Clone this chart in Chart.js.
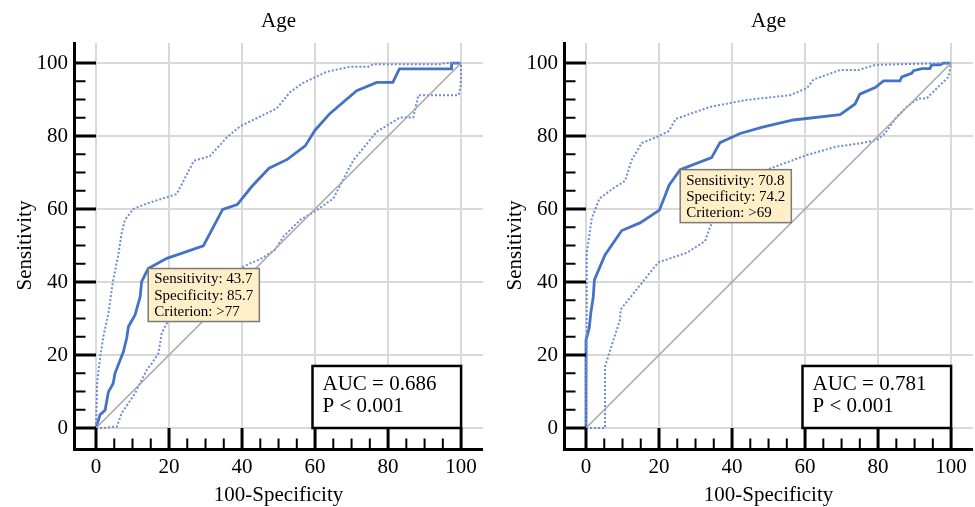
<!DOCTYPE html>
<html>
<head>
<meta charset="utf-8">
<script src="https://cdn.jsdelivr.net/npm/chart.js@4.4.1/dist/chart.umd.min.js"></script>
<style>
  html, body { margin: 0; padding: 0; background: #fff; }
  #wrap { position: relative; width: 975px; height: 507px; }
  #c1 { position: absolute; left: 0; top: 0; }
  #c2 { position: absolute; left: 490px; top: 0; }
</style>
</head>
<body>
<div id="wrap">
  <canvas id="c1" width="490" height="507"></canvas>
  <canvas id="c2" width="485" height="507"></canvas>
</div>
<script>
// tick labels and titles
const tickValues = [0, 20, 40, 60, 80, 100];
const chartTitles = ['Age', 'Age'];
const xTitle = '100-Specificity';
const yTitle = 'Sensitivity';

// left panel: [100-specificity, sensitivity]
const leftRoc = [[0,0],[1.1,3.6],[2.5,4.9],[3.4,9.9],[4.7,12.2],[5.2,15],[7.5,20.9],[8.4,24.6],[8.9,27.8],
  [10.7,31],[12.1,36],[12.5,40.1],[14.3,43.7],[19.4,46.5],[23,47.7],[29.4,49.9],[34.7,59.9],[38.7,61.2],
  [42.6,66.1],[47.4,71.2],[52.4,73.6],[57.3,77.3],[60,81.6],[64.1,86.2],[71.4,92.4],[76.9,94.7],[81.3,94.7],
  [83.1,98.4],[97.4,98.4],[97.4,100],[100,100]];
const leftUpper = [[0,0],[0.3,12.3],[1.1,19.1],[2,25],[3.4,31.4],[4.3,37.8],[4.7,40.5],[6.1,47.4],[7,53.3],
  [7.9,57],[10.2,60],[13.9,61.5],[22.1,64.1],[26.8,73.2],[31.2,74.5],[35.8,79.6],[39.5,82.7],[44.5,85.1],
  [49.5,87.6],[53.2,92.1],[56.8,94.6],[63.2,97.6],[69.6,99],[74.6,99],[76,99.7],[94.2,99.7],[95.6,100],[100,100]];
const leftLower = [[0,0],[2,0],[5.7,0.4],[7,4],[10.7,9.5],[13.9,15.9],[15.3,17.7],[17.1,20.5],[18,26],
  [20.3,30.5],[30,37.5],[40,44],[42.2,45.1],[44.9,46.2],[49,48.8],[51.3,52.4],[55.9,57],[60.5,59.7],[65,62.9],
  [70.5,73.4],[76.9,81.2],[83.3,85.1],[86.9,85.1],[88.3,91.2],[99.3,91.2],[99.9,94],[100,100]];
const leftCriterion = [14.3, 43.7];
const leftCriterionText = ['Sensitivity: 43.7', 'Specificity: 85.7', 'Criterion: >77'];
const leftAucText = ['AUC = 0.686', 'P < 0.001'];

// right panel
const rightRoc = [[0,0],[0,24.1],[0.9,27.5],[1.3,31.4],[2,36],[2.3,40.6],[5.2,47.4],[9.8,54.1],[14.8,56.2],
  [20.1,59.7],[22.8,66.6],[25.8,70.8],[34.4,74.1],[36.7,78.2],[42.2,80.7],[48.6,82.5],[56.8,84.4],[69.6,85.9],
  [73.7,88.8],[75,91.5],[79.2,93.3],[81.5,95.1],[86,95.1],[86.5,96.2],[89.2,97.2],[89.7,97.9],[92,98.5],
  [94.2,98.5],[94.7,99.5],[97,99.5],[97.9,100],[100,100]];
const rightUpper = [[0,0],[0.2,30],[0.2,47.9],[1.6,57.5],[3.7,62.9],[7.5,65.7],[10.7,67.7],[12.5,73.4],
  [15.3,78.1],[20,80],[22.7,81.4],[24.6,84.7],[34,88],[44,89.9],[55.9,91.2],[60.5,93.1],[62.3,95.5],
  [69.6,98.1],[74.6,98.1],[79.2,99.5],[95.2,99.9],[100,100]];
const rightLower = [[0,0],[5.2,0],[5.2,16.8],[7.5,24.1],[9.3,29.6],[9.5,32.5],[19.8,45.4],[27.6,48],
  [32.6,51.2],[34,55.2],[38,62],[44,68],[50.4,71.1],[60.5,74.8],[66.8,76.6],[68.7,77.1],[75.1,78],
  [79.6,78.9],[81.9,80.7],[85.1,85.3],[87.9,88],[91,90.3],[93.3,90.3],[96.1,93.1],[99.3,96.2],[100,100]];
const rightCriterion = [25.8, 70.8];
const rightCriterionText = ['Sensitivity: 70.8', 'Specificity: 74.2', 'Criterion: >69'];
const rightAucText = ['AUC = 0.781', 'P < 0.001'];

const chance = [[0,0],[100,100]];
const aucBoxRange = [59.3, 100, 0, 17];

const SERIF = '"Liberation Serif", "Times New Roman", serif';
const BLUE = '#4472c4';
const BAND = '#6d8bd8';

function pts(arr) {
    return arr.map(p => ({x: p[0], y: p[1]}));
}

// axis lines, ticks, titles, criterion label, AUC box
const decor = {
    id: 'decor',
    afterDraw(chart, args, o) {
        const {ctx, chartArea: a, scales: {x, y}} = chart;
        ctx.save();
        const ax = a.left - 21.5, ay = a.bottom + 21.5;
        ctx.strokeStyle = '#000';
        ctx.lineWidth = 3;
        ctx.beginPath();
        ctx.moveTo(ax, a.top - 1);
        ctx.lineTo(ax, ay + 1.5);
        ctx.moveTo(ax - 1.5, ay);
        ctx.lineTo(a.right, ay);
        ctx.stroke();
        for (let v = 0; v <= 100; v += 5) {
            const major = v % 20 === 0;
            const len = major ? 21.5 : 11;
            ctx.lineWidth = major ? 3 : 2;
            const px = x.getPixelForValue(v), py = y.getPixelForValue(v);
            ctx.beginPath();
            ctx.moveTo(px, ay); ctx.lineTo(px, ay - len);
            ctx.moveTo(ax, py); ctx.lineTo(ax + len, py);
            ctx.stroke();
        }

        // titles
        ctx.fillStyle = '#000';
        ctx.font = '21px ' + SERIF;
        ctx.textAlign = 'center';
        ctx.textBaseline = 'middle';
        const cx = x.getPixelForValue(50);
        ctx.fillText(o.title, cx, 21);
        ctx.fillText(xTitle, cx, 495);
        ctx.save();
        ctx.translate(25, y.getPixelForValue(50));
        ctx.rotate(-Math.PI / 2);
        ctx.fillText(yTitle, 0, 0);
        ctx.restore();

        // AUC box
        const bl = x.getPixelForValue(aucBoxRange[0]), br = x.getPixelForValue(aucBoxRange[1]);
        const bb = y.getPixelForValue(aucBoxRange[2]), bt = y.getPixelForValue(aucBoxRange[3]);
        ctx.fillStyle = '#fff';
        ctx.fillRect(bl, bt, br - bl, bb - bt);
        ctx.strokeStyle = '#000';
        ctx.lineWidth = 2.5;
        ctx.strokeRect(bl, bt, br - bl, bb - bt);
        ctx.fillStyle = '#000';
        ctx.textAlign = 'left';
        ctx.fillText(o.auc[0], bl + 10, bt + 19);
        ctx.fillText(o.auc[1], bl + 10, bt + 41);

        // criterion label, top-left corner on the chosen point
        const px = x.getPixelForValue(o.crit[0]), py = y.getPixelForValue(o.crit[1]);
        ctx.font = '15px ' + SERIF;
        const w = Math.max(...o.critText.map(t => ctx.measureText(t).width)) + 12;
        const h = 53;
        ctx.fillStyle = '#ffefc9';
        ctx.fillRect(px, py, w, h);
        ctx.strokeStyle = '#7a7a7a';
        ctx.lineWidth = 1.5;
        ctx.strokeRect(px, py, w, h);
        ctx.fillStyle = '#000';
        o.critText.forEach((t, i) => ctx.fillText(t, px + 6, py + 11 + i * 16.2));
        ctx.restore();
    }
};

function axisOpts(max, isX) {
    return {
        type: 'linear',
        min: 0,
        max: max,
        afterBuildTicks: s => { s.ticks = tickValues.map(v => ({value: v})); },
        afterFit: s => {
            if (isX) s.height = 79; else s.width = 96;
            s.paddingLeft = s.paddingRight = s.paddingTop = s.paddingBottom = 0;
        },
        ticks: {
            font: {family: SERIF, size: 21},
            color: '#000',
            padding: isX ? 27 : 28,
            autoSkip: false,
            maxRotation: 0
        },
        grid: {color: '#d9d9d9', lineWidth: 2, drawTicks: false},
        border: {display: false}
    };
}

function makeChart(id, title, roc, upper, lower, crit, critText, auc, padRight) {
    return new Chart(document.getElementById(id).getContext('2d'), {
        type: 'line',
        data: {
            datasets: [
                {data: pts(chance), borderColor: '#a6a6a6', borderWidth: 1.5},
                {data: pts(upper), borderColor: BAND, borderWidth: 2, borderDash: [2, 2]},
                {data: pts(lower), borderColor: BAND, borderWidth: 2, borderDash: [2, 2]},
                {data: pts(roc), borderColor: BLUE, borderWidth: 2.8}
            ]
        },
        options: {
            responsive: false,
            devicePixelRatio: 1,
            animation: false,
            layout: {padding: {top: 43, right: padRight, left: 0, bottom: 0}},
            elements: {point: {radius: 0}, line: {tension: 0, fill: false}},
            datasets: {line: {clip: false}},
            scales: {x: axisOpts(106, true), y: axisOpts(105.5, false)},
            plugins: {
                legend: {display: false},
                tooltip: {enabled: false},
                decor: {title: title, crit: crit, critText: critText, auc: auc}
            }
        },
        plugins: [decor]
    });
}

makeChart('c1', chartTitles[0], leftRoc, leftUpper, leftLower, leftCriterion, leftCriterionText, leftAucText, 7);
makeChart('c2', chartTitles[1], rightRoc, rightUpper, rightLower, rightCriterion, rightCriterionText, rightAucText, 2);
</script>
</body>
</html>
